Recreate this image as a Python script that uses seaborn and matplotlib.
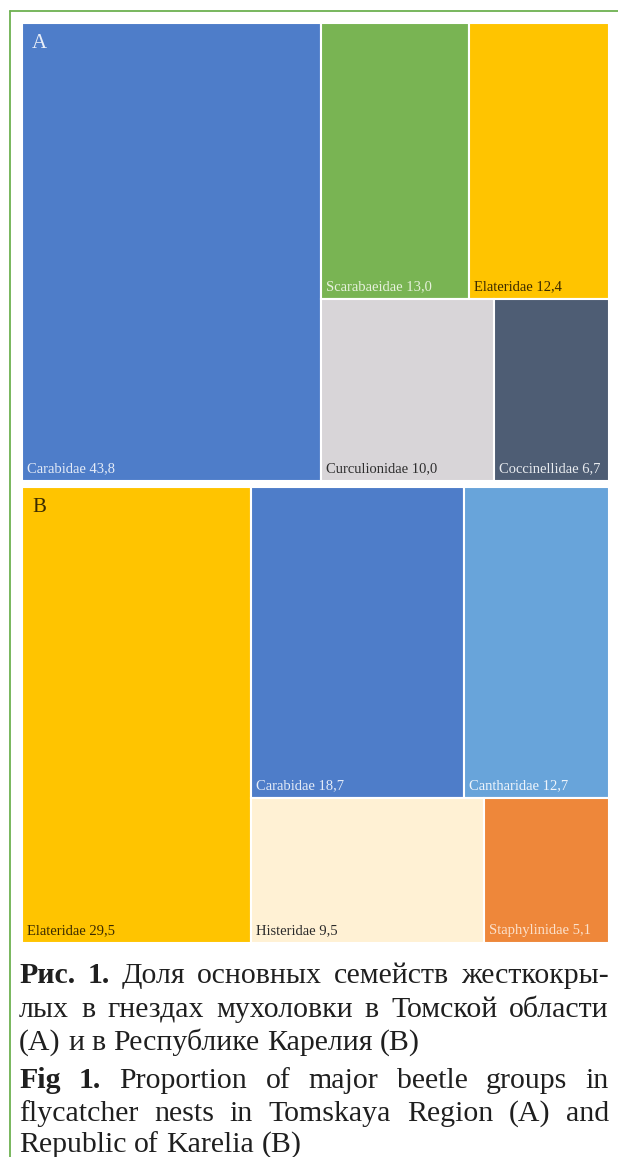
import matplotlib
matplotlib.use("Agg")
import matplotlib.pyplot as plt
import seaborn as sns

# Treemap data (percent of beetles per family)
families_a = ["Carabidae", "Scarabaeidae", "Elateridae", "Curculionidae", "Coccinellidae"]
values_a = [43.8, 13.0, 12.4, 10.0, 6.7]
families_b = ["Elateridae", "Carabidae", "Cantharidae", "Histeridae", "Staphylinidae"]
values_b = [29.5, 18.7, 12.7, 9.5, 5.1]

colors_a = ["#4E7DC9", "#79B453", "#FFC400", "#D8D5D8", "#4E5D74"]
colors_b = ["#FFC400", "#4E7DC9", "#68A4DA", "#FFF1D4", "#EE873A"]
textc_a = ["#e4ebf7", "#e6f1dc", "#3a2a00", "#2e2e2e", "#e8ebef"]
textc_b = ["#3a2a00", "#e4ebf7", "#eef4fb", "#2a2a2a", "#fbe1cc"]

caption_ru = [
    [("Рис. 1.", True), ("Доля основных семейств жесткокры-", False)],
    [("лых в гнездах мухоловки в Томской области", False)],
    [("(А) и в Республике Карелия (В)", False)],
]
caption_en = [
    [("Fig 1.", True), ("Proportion of major beetle groups in", False)],
    [("flycatcher nests in Tomskaya Region (A) and", False)],
    [("Republic of Karelia (B)", False)],
]

sns.set_theme(style="white")
plt.rcParams["font.family"] = ["Liberation Serif", "DejaVu Serif"]

W, H = 618, 1157
fig = plt.figure(figsize=(W / 100, H / 100), dpi=100)


def px_box(x0, y0, x1, y1):
    return [x0 / W, 1 - y1 / H, (x1 - x0) / W, (y1 - y0) / H]


def layout(values):
    # first family takes a full-height column, the rest fill two rows of two
    total = sum(values)
    w0 = values[0] / total
    rects = [(0.0, 0.0, w0, 1.0)]
    top = values[1] + values[2]
    bot = values[3] + values[4]
    h_top = top / (top + bot)
    x = w0
    for v in values[1:3]:
        w = (1 - w0) * v / top
        rects.append((x, 1 - h_top, w, h_top))
        x += w
    x = w0
    for v in values[3:5]:
        w = (1 - w0) * v / bot
        rects.append((x, 0.0, w, 1 - h_top))
        x += w
    return rects


def treemap(ax, names, values, colors, tcolors, tag, tagc):
    rects = layout(values)
    for (x, y, w, h), n, v, c, tc in zip(rects, names, values, colors, tcolors):
        ax.bar(x, h, width=w, bottom=y, align="edge", color=c,
               edgecolor="white", linewidth=1.5)
        ax.annotate(f"{n} {v:.1f}".replace(".", ","), xy=(x, y),
                    xytext=(5, 9), textcoords="offset pixels",
                    ha="left", va="baseline", fontsize=10.5, color=tc)
    ax.text(0.017, 0.975, tag, transform=ax.transAxes, ha="left", va="top",
            fontsize=15, color=tagc)
    ax.set_xlim(0, 1)
    ax.set_ylim(0, 1)
    ax.set_axis_off()


ax_a = fig.add_axes(px_box(22, 23, 609, 481))
treemap(ax_a, families_a, values_a, colors_a, textc_a, "A", "#e8eef8")
ax_b = fig.add_axes(px_box(22, 487, 609, 943))
treemap(ax_b, families_b, values_b, colors_b, textc_b, "B", "#3a2a00")

# green frame
frame = fig.add_axes([0, 0, 1, 1])
frame.set_xlim(0, W)
frame.set_ylim(H, 0)
frame.set_axis_off()
frame.plot([10, 10], [11, H], color="#6DB150", lw=1.3)
frame.plot([10, W], [11, 11], color="#6DB150", lw=1.3)

# caption with justified lines
renderer = fig.canvas.get_renderer()
X0, X1 = 19, 609
FS = 21.5


def caption_line(parts, y, justify):
    words = []
    for txt, bold in parts:
        for wd in txt.split(" "):
            words.append((wd, bold))
    arts = [fig.text(0, 1 - y / H, wd, fontsize=FS, color="#1f1f1f",
                     fontweight="bold" if b else "normal", va="baseline")
            for wd, b in words]
    widths = [a.get_window_extent(renderer).width for a in arts]
    space = 0.25 * FS * 100 / 72
    if justify and len(arts) > 1:
        gap = (X1 - X0 - sum(widths)) / (len(arts) - 1)
    else:
        gap = space
    x = X0
    for a, w in zip(arts, widths):
        a.set_x(x / W)
        x += w + gap


ys_ru = [983, 1017, 1050]
ys_en = [1088, 1121, 1152]
for i, (parts, y) in enumerate(zip(caption_ru, ys_ru)):
    caption_line(parts, y, i < len(caption_ru) - 1)
for i, (parts, y) in enumerate(zip(caption_en, ys_en)):
    caption_line(parts, y, i < len(caption_en) - 1)

fig.savefig("out.png", dpi=100)
